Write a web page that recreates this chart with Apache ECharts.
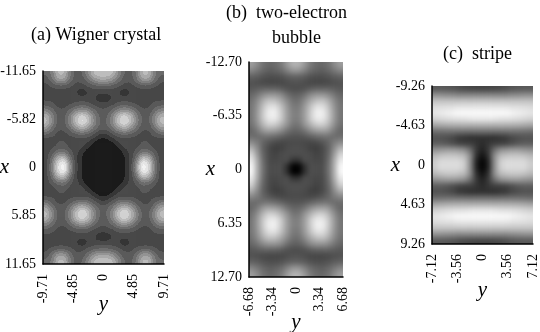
<!DOCTYPE html>
<html>
<head>
<meta charset="utf-8">
<style>
html,body{margin:0;background:#fff}
#main{position:absolute;left:0;top:0;width:540px;height:332px}
.plot{position:absolute;overflow:hidden}
.heat{position:absolute}
</style>
<script src="https://cdn.jsdelivr.net/npm/echarts@6/dist/echarts.min.js"></script>
</head>
<body>
<svg width="0" height="0" style="position:absolute">
	<filter id="bands12" x="0" y="0" width="100%" height="100%" color-interpolation-filters="sRGB">
		<feGaussianBlur stdDeviation="2.5"/>
		<feComponentTransfer>
			<feFuncR type="discrete" tableValues=".08 .09 .2 .28 .35 .42 .5 .58 .66 .74 .82 .9 .95"/>
			<feFuncG type="discrete" tableValues=".08 .09 .2 .28 .35 .42 .5 .58 .66 .74 .82 .9 .95"/>
			<feFuncB type="discrete" tableValues=".08 .09 .2 .28 .35 .42 .5 .58 .66 .74 .82 .9 .95"/>
		</feComponentTransfer>
	</filter>
	<filter id="soft" x="0" y="0" width="100%" height="100%" color-interpolation-filters="sRGB">
		<feGaussianBlur stdDeviation="2.5"/>
	</filter>
</svg>
<div id="main"></div>
<script>
// density, 0 black .. 100 white, rows from top to bottom
var wigner = [
[40,48,72,72,48,35,38,54,72,76,76,72,54,38,35,48,72,72,48,40],
[33,44,60,60,44,33,33,44,56,62,62,56,44,33,33,44,60,60,44,33],
[28,32,36,36,32,28,28,32,36,38,38,36,32,28,28,32,36,36,32,28],
[26,26,26,26,26,24,16,24,26,26,26,26,24,16,24,26,26,26,26,26],
[28,28,26,26,26,26,26,26,24,16,16,24,26,26,26,26,26,26,28,28],
[35,33,28,26,30,33,35,33,28,26,26,28,33,35,33,30,26,28,33,35],
[50,42,32,32,40,50,56,50,40,32,32,40,50,56,50,40,32,32,42,50],
[70,52,36,36,50,72,84,72,50,36,36,50,72,84,72,50,36,36,52,70],
[74,54,36,36,52,74,90,76,52,38,38,52,76,90,74,52,36,36,54,74],
[60,44,33,33,44,58,68,58,44,34,34,44,58,68,58,44,33,33,44,60],
[40,34,28,28,32,38,40,38,30,22,22,30,38,40,38,32,28,28,34,40],
[26,26,30,30,26,26,26,26,18,12,12,18,26,26,26,26,30,30,26,26],
[24,28,32,34,28,26,26,18,9,9,9,9,18,26,26,28,34,32,28,24],
[26,34,44,46,34,26,18,9,9,9,9,9,9,18,26,34,46,44,34,26],
[26,42,70,76,44,24,14,9,9,9,9,9,9,14,24,44,76,70,42,26],
[26,48,86,100,56,25,14,9,9,9,9,9,9,14,25,56,100,86,48,26],
[26,48,86,100,56,25,14,9,9,9,9,9,9,14,25,56,100,86,48,26],
[26,42,70,76,44,24,14,9,9,9,9,9,9,14,24,44,76,70,42,26],
[26,34,44,46,34,26,18,9,9,9,9,9,9,18,26,34,46,44,34,26],
[24,28,32,34,28,26,26,18,9,9,9,9,18,26,26,28,34,32,28,24],
[26,26,30,30,26,26,26,26,18,12,12,18,26,26,26,26,30,30,26,26],
[40,34,28,28,32,38,40,38,30,22,22,30,38,40,38,32,28,28,34,40],
[60,44,33,33,44,58,68,58,44,34,34,44,58,68,58,44,33,33,44,60],
[74,54,36,36,52,74,90,76,52,38,38,52,76,90,74,52,36,36,54,74],
[70,52,36,36,50,72,84,72,50,36,36,50,72,84,72,50,36,36,52,70],
[50,42,32,32,40,50,56,50,40,32,32,40,50,56,50,40,32,32,42,50],
[35,33,28,26,30,33,35,33,28,26,26,28,33,35,33,30,26,28,33,35],
[28,28,26,26,26,26,26,26,24,16,16,24,26,26,26,26,26,26,28,28],
[26,26,26,26,26,24,16,24,26,26,26,26,24,16,24,26,26,26,26,26],
[28,32,36,36,32,28,28,32,36,38,38,36,32,28,28,32,36,36,32,28],
[33,44,60,60,44,33,33,44,56,62,62,56,44,33,33,44,60,60,44,33],
[40,48,72,72,48,35,38,54,72,76,76,72,54,38,35,48,72,72,48,40]
];
var bubble = [
[62,54,44,40,42,48,60,70,70,60,48,42,40,44,54,62],
[52,46,40,36,38,42,50,58,58,50,42,38,36,40,46,52],
[38,36,32,30,30,32,36,38,38,36,32,30,30,32,36,38],
[32,30,28,27,27,28,30,32,32,30,28,27,27,28,30,32],
[34,36,38,38,38,36,32,30,30,32,36,38,38,38,36,34],
[40,46,54,58,58,54,44,38,38,44,54,58,58,54,46,40],
[44,54,68,76,74,66,54,44,44,54,66,74,76,68,54,44],
[46,58,76,88,88,76,60,48,48,60,76,88,88,76,58,46],
[46,60,80,94,94,80,62,50,50,62,80,94,94,80,60,46],
[46,60,80,92,92,80,62,50,50,62,80,92,92,80,60,46],
[44,56,72,82,80,70,58,46,46,58,70,80,82,72,56,44],
[40,48,60,64,62,56,46,40,40,46,56,62,64,60,48,40],
[42,42,44,44,42,38,34,32,32,34,38,42,44,44,42,42],
[54,48,38,32,28,27,28,29,29,28,27,28,32,38,48,54],
[70,54,36,27,23,25,29,30,30,29,25,23,27,36,54,70],
[84,60,38,28,25,29,30,30,30,30,29,25,28,38,60,84],
[92,66,40,28,27,29,30,20,20,30,29,27,28,40,66,92],
[98,68,42,29,29,30,18,0,0,18,30,29,29,42,68,98],
[98,68,42,29,29,30,18,0,0,18,30,29,29,42,68,98],
[92,66,40,28,27,29,30,20,20,30,29,27,28,40,66,92],
[84,60,38,28,25,29,30,30,30,30,29,25,28,38,60,84],
[70,54,36,27,23,25,29,30,30,29,25,23,27,36,54,70],
[54,48,38,32,28,27,28,29,29,28,27,28,32,38,48,54],
[42,42,44,44,42,38,34,32,32,34,38,42,44,44,42,42],
[40,48,60,64,62,56,46,40,40,46,56,62,64,60,48,40],
[44,56,72,82,80,70,58,46,46,58,70,80,82,72,56,44],
[46,60,80,92,92,80,62,50,50,62,80,92,92,80,60,46],
[46,60,80,94,94,80,62,50,50,62,80,94,94,80,60,46],
[46,58,76,88,88,76,60,48,48,60,76,88,88,76,58,46],
[44,54,68,76,74,66,54,44,44,54,66,74,76,68,54,44],
[40,46,54,58,58,54,44,38,38,44,54,58,58,54,46,40],
[34,36,38,38,38,36,32,30,30,32,36,38,38,38,36,34],
[32,30,28,27,27,28,30,32,32,30,28,27,27,28,30,32],
[38,36,32,30,30,32,36,38,38,36,32,30,30,32,36,38],
[52,46,40,36,38,42,50,58,58,50,42,38,36,40,46,52],
[62,54,44,40,42,48,60,70,70,60,48,42,40,44,54,62]
];
var stripe = [
[35,35,34,33,30,28,27,26,26,26,27,28,30,33,34,35,35],
[56,56,55,54,52,52,52,52,52,52,52,52,52,54,55,56,56],
[76,76,76,76,76,76,76,76,76,76,76,76,76,76,76,76,76],
[86,87,88,88,90,90,90,90,90,90,90,90,90,88,88,87,86],
[90,92,94,96,98,98,98,98,98,98,98,98,98,96,94,92,90],
[82,84,86,87,88,88,90,90,90,90,90,88,88,87,86,84,82],
[64,66,67,68,68,68,68,68,68,68,68,68,68,68,67,66,64],
[42,43,44,44,44,43,43,43,43,43,43,43,44,44,44,43,42],
[32,32,30,28,22,20,18,18,18,18,18,20,22,28,30,32,32],
[36,36,34,30,26,24,24,20,16,20,24,24,26,30,34,36,36],
[56,58,60,60,58,54,42,22,12,22,42,54,58,60,60,58,56],
[72,76,78,78,76,72,54,18,6,18,54,72,76,78,78,76,72],
[80,86,86,86,86,80,54,12,0,12,54,80,86,86,86,86,80],
[80,86,86,86,86,80,54,12,0,12,54,80,86,86,86,86,80],
[72,76,78,78,76,72,54,18,6,18,54,72,76,78,78,76,72],
[56,58,60,60,58,54,42,22,12,22,42,54,58,60,60,58,56],
[36,36,34,30,26,24,24,20,16,20,24,24,26,30,34,36,36],
[32,32,30,28,22,20,18,18,18,18,18,20,22,28,30,32,32],
[42,43,44,44,44,43,43,43,43,43,43,43,44,44,44,43,42],
[64,66,67,68,68,68,68,68,68,68,68,68,68,68,67,66,64],
[82,84,86,87,88,88,90,90,90,90,90,88,88,87,86,84,82],
[90,92,94,96,98,98,98,98,98,98,98,98,98,96,94,92,90],
[86,87,88,88,90,90,90,90,90,90,90,90,90,88,88,87,86],
[76,76,76,76,76,76,76,76,76,76,76,76,76,76,76,76,76],
[56,56,55,54,52,52,52,52,52,52,52,52,52,54,55,56,56],
[35,35,34,33,30,28,27,26,26,26,27,28,30,33,34,35,35]
];

var xTicksA = ['-11.65', '', '-5.82', '', '0', '', '5.85', '', '11.65'];
var yTicksA = ['-9.71', '-4.85', '0', '4.85', '9.71'];
var xTicksB = ['-12.70', '', '-6.35', '', '0', '', '6.35', '', '12.70'];
var yTicksB = ['-6.68', '-3.34', '0', '3.34', '6.68'];
var xTicksC = ['-9.26', '', '-4.63', '', '0', '', '4.63', '', '9.26'];
var yTicksC = ['-7.12', '-3.56', '0', '3.56', '7.12'];

var serif = '"Liberation Serif", serif';

var panels = [
	{ values: wigner, left: 43, top: 71, width: 121, height: 193, side: xTicksA, under: yTicksA, gapX: 34, gapY: 30, filter: 'bands12' },
	{ values: bubble, left: 249, top: 62, width: 94, height: 215, side: xTicksB, under: yTicksB, gapX: 34, gapY: 35, filter: 'soft' },
	{ values: stripe, left: 432, top: 86, width: 101, height: 158, side: xTicksC, under: yTicksC, gapX: 32, gapY: 36, filter: 'soft' }
];

var PAD = 2; // extra cells round each plot so the smoothing has no open edge

// one clipped chart per panel for the cells
function drawHeat(p) {
	var nRows = p.values.length, nCols = p.values[0].length;
	var cw = p.width / nCols, ch = p.height / nRows;
	var plot = document.createElement('div');
	plot.className = 'plot';
	plot.style.cssText = 'left:' + p.left + 'px;top:' + p.top + 'px;width:' + p.width + 'px;height:' + p.height + 'px';
	var heat = document.createElement('div');
	heat.className = 'heat';
	var w = Math.round(p.width + 2 * PAD * cw), h = Math.round(p.height + 2 * PAD * ch);
	heat.style.cssText = 'left:' + (-PAD * cw) + 'px;top:' + (-PAD * ch) + 'px;width:' + w + 'px;height:' + h + 'px;filter:url(#' + p.filter + ')';
	plot.appendChild(heat);
	document.body.insertBefore(plot, document.getElementById('main'));

	var cells = [], cols = [], rows = [];
	for (var r = -PAD; r < nRows + PAD; r++) {
		rows.push(r);
		for (var c = -PAD; c < nCols + PAD; c++) {
			var rr = Math.min(Math.max(r, 0), nRows - 1);
			var cc = Math.min(Math.max(c, 0), nCols - 1);
			cells.push([c + PAD, r + PAD, p.values[rr][cc]]);
		}
	}
	for (var k = -PAD; k < nCols + PAD; k++) cols.push(k);

	echarts.init(heat).setOption({
		animation: false,
		visualMap: { show: false, min: 0, max: 100, inRange: { color: ['#000000', '#ffffff'] } },
		grid: { left: 0, top: 0, right: 0, bottom: 0, outerBoundsMode: 'none' },
		xAxis: { type: 'category', data: cols, show: false },
		yAxis: { type: 'category', data: rows, show: false, inverse: true },
		series: [{ type: 'heatmap', data: cells, silent: true, progressive: 0 }]
	});
}
panels.forEach(drawHeat);

var grids = [], xAxes = [], yAxes = [];

panels.forEach(function (p, i) {
	grids.push({ left: p.left, top: p.top, width: p.width, height: p.height, outerBoundsMode: 'none' });
	xAxes.push({
		type: 'category', gridIndex: i, data: p.under, boundaryGap: false, position: 'bottom',
		name: 'y', nameLocation: 'middle', nameGap: p.gapY, nameMoveOverlap: false,
		nameTextStyle: { fontFamily: serif, fontStyle: 'italic', fontSize: 21, color: '#000' },
		axisLine: { lineStyle: { color: '#000', width: 1.5 } },
		axisTick: { length: 4, interval: 0, lineStyle: { color: '#000' } },
		axisLabel: { rotate: 90, interval: 0, margin: 10, fontFamily: serif, fontSize: 14, color: '#000' }
	});
	yAxes.push({
		type: 'category', gridIndex: i, data: p.side, boundaryGap: false, inverse: true, position: 'left',
		name: 'x', nameLocation: 'middle', nameGap: p.gapX, nameRotate: 0, nameMoveOverlap: false,
		nameTextStyle: { fontFamily: serif, fontStyle: 'italic', fontSize: 21, color: '#000', padding: [3, 0, 0, 0] },
		axisLine: { lineStyle: { color: '#000', width: 1.5 } },
		axisTick: { length: 4, interval: 0, lineStyle: { color: '#000' } },
		axisLabel: { interval: 0, margin: 7, fontFamily: serif, fontSize: 14, color: '#000', padding: [3, 0, 0, 0] }
	});
});

function heading(text, left, top) {
	return {
		text: text, left: left, top: top, padding: 0,
		textStyle: { fontFamily: serif, fontWeight: 'normal', fontSize: 18, color: '#000' }
	};
}

var myChart = echarts.init(document.getElementById('main'));
myChart.setOption({
	animation: false,
	title: [
		heading('(a) Wigner crystal', 31, 26),
		heading('(b)  two-electron', 226, 4),
		heading('bubble', 272, 29),
		heading('(c)  stripe', 443, 45)
	],
	grid: grids,
	xAxis: xAxes,
	yAxis: yAxes
});
</script>
</body>
</html>
